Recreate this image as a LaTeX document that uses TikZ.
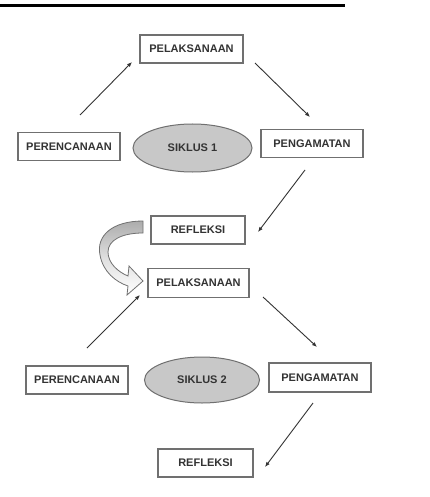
\documentclass[tikz,border=0pt]{standalone}
\usepackage{fontspec}
\setmainfont{Liberation Sans}
\usetikzlibrary{arrows.meta,shapes.geometric}
\definecolor{txt}{HTML}{333333}
\definecolor{edge}{HTML}{707070}
\definecolor{ellfill}{HTML}{C8C8C8}
\begin{document}
\begin{tikzpicture}[x=1pt,y=-1pt,
  stepbox/.style={draw=edge,line width=1.3pt,fill=white,inner sep=0pt,
    minimum width=102pt,minimum height=28pt,text=txt,
    font=\fontsize{11}{12}\selectfont\bfseries},
  cyc/.style={ellipse,draw=edge,line width=1pt,fill=ellfill,inner sep=0pt,
    text=txt,font=\fontsize{11}{12}\selectfont\bfseries},
  link/.style={draw=txt,line width=0.9pt,-{Latex[length=5pt,width=4pt]}}]
\useasboundingbox (0,0) rectangle (430,497);
\fill[white] (0,0) rectangle (430,497);
\coordinate (barL) at (0,5.5);
\coordinate (barR) at (345,5.5);
\draw[line width=3pt,black] (barL) -- (barR);
% cycle 1
\node[stepbox,minimum width=103pt] (pel1) at (191.5,49) {PELAKSANAAN};
\node[stepbox] (per1) at (69,146.5) {PERENCANAAN};
\node[cyc,minimum width=119pt,minimum height=48pt] (sik1) at (192.5,148) {SIKLUS 1};
\node[stepbox] (pen1) at (312,143.5) {PENGAMATAN};
\node[stepbox,minimum width=94pt] (ref1) at (198,230) {REFLEKSI};
% cycle 2
\node[stepbox,minimum width=101pt,minimum height=29pt] (pel2) at (198.5,283) {PELAKSANAAN};
\node[stepbox] (per2) at (77,380) {PERENCANAAN};
\node[cyc,minimum width=115pt,minimum height=46pt] (sik2) at (202,380) {SIKLUS 2};
\node[stepbox,minimum height=29pt] (pen2) at (320,377.5) {PENGAMATAN};
\node[stepbox,minimum width=95pt] (ref2) at (205.5,463) {REFLEKSI};
% connector end points
\coordinate (a1s) at (80,115);  \coordinate (a1e) at (132,62);
\coordinate (a2s) at (255,63);  \coordinate (a2e) at (310,117);
\coordinate (a3s) at (305,170); \coordinate (a3e) at (258,232);
\coordinate (a4s) at (87,348);  \coordinate (a4e) at (140,295);
\coordinate (a5s) at (263,297); \coordinate (a5e) at (317,347);
\coordinate (a6s) at (313,403); \coordinate (a6e) at (265,467);
\draw[link] (a1s) -- (a1e);
\draw[link] (a2s) -- (a2e);
\draw[link] (a3s) -- (a3e);
\draw[link] (a4s) -- (a4e);
\draw[link] (a5s) -- (a5e);
\draw[link] (a6s) -- (a6e);
% curved block arrow from REFLEKSI to PELAKSANAAN
\shade[top color=gray!65,bottom color=white,middle color=gray!25,draw=edge,line width=0.8pt]
  (143,221) .. controls (112,221) and (96,236) .. (100,255)
  .. controls (103,272) and (116,282) .. (128,286)
  -- (127,295) -- (143,281) -- (129,266) -- (128,276)
  .. controls (118,272) and (108,263) .. (108,252)
  .. controls (108,240) and (122,233) .. (143,233) -- cycle;
\end{tikzpicture}
\end{document}
